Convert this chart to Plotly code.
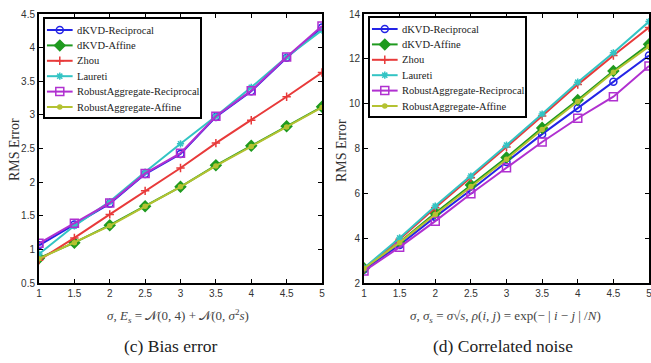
import plotly.graph_objects as go

sigma = [1, 1.5, 2, 2.5, 3, 3.5, 4, 4.5, 5]
series_names = ["dKVD-Reciprocal", "dKVD-Affine", "Zhou", "Laureti",
                "RobustAggregate-Reciprocal", "RobustAggregate-Affine"]

# (c) Bias error
bias_dkvd_recip = [1.06, 1.37, 1.68, 2.12, 2.42, 2.97, 3.35, 3.85, 4.30]
bias_dkvd_affine = [0.87, 1.10, 1.36, 1.64, 1.93, 2.25, 2.54, 2.83, 3.12]
bias_zhou = [0.84, 1.17, 1.52, 1.87, 2.21, 2.58, 2.92, 3.27, 3.63]
bias_laureti = [0.93, 1.35, 1.71, 2.15, 2.57, 2.98, 3.41, 3.86, 4.26]
bias_ra_recip = [1.09, 1.39, 1.69, 2.13, 2.43, 2.98, 3.36, 3.86, 4.32]
bias_ra_affine = [0.86, 1.10, 1.35, 1.64, 1.93, 2.24, 2.53, 2.82, 3.11]

# (d) Correlated noise
corr_dkvd_recip = [2.60, 3.70, 4.95, 6.15, 7.40, 8.64, 9.80, 10.98, 12.15]
corr_dkvd_affine = [2.66, 3.82, 5.12, 6.37, 7.60, 8.92, 10.16, 11.46, 12.65]
corr_zhou = [2.65, 3.95, 5.36, 6.70, 8.07, 9.45, 10.85, 12.15, 13.40]
corr_laureti = [2.67, 4.01, 5.43, 6.77, 8.15, 9.54, 10.96, 12.27, 13.66]
corr_ra_recip = [2.53, 3.60, 4.76, 5.98, 7.14, 8.29, 9.35, 10.31, 11.68]
corr_ra_affine = [2.65, 3.80, 5.06, 6.30, 7.52, 8.85, 10.10, 11.40, 12.55]

x_ticks = [1, 1.5, 2, 2.5, 3, 3.5, 4, 4.5, 5]
y_ticks_c = [0.5, 1, 1.5, 2, 2.5, 3, 3.5, 4, 4.5]
y_ticks_d = [2, 4, 6, 8, 10, 12, 14]

colors = ["#2424e6", "#1f9a1f", "#e83a3a", "#33c4c4", "#b030d0", "#b4c232"]
symbols = ["circle-open", "diamond", "cross-thin-open", "asterisk-open",
           "square-open", "circle"]
msizes = [7, 8, 6, 6, 8, 4]

W, H = 651, 363
serif = "Liberation Serif, Times New Roman"
fig = go.Figure()

bias = [bias_dkvd_recip, bias_dkvd_affine, bias_zhou, bias_laureti, bias_ra_recip, bias_ra_affine]
corr = [corr_dkvd_recip, corr_dkvd_affine, corr_zhou, corr_laureti, corr_ra_recip, corr_ra_affine]


def marker(i, opacity=1):
    return dict(symbol=symbols[i], size=msizes[i], color=colors[i], opacity=opacity,
                line=dict(color=colors[i], width=1.5))


for data, xa, ya in [(bias, "x", "y"), (corr, "x2", "y2")]:
    for i, name in enumerate(series_names):
        fig.add_trace(go.Scatter(
            x=sigma, y=data[i], name=name, mode="lines+markers",
            line=dict(color=colors[i], width=2), marker=marker(i),
            xaxis=xa, yaxis=ya, showlegend=False, hoverinfo="x+y+name"))

# custom legends (compact rows like the original), each on its own hidden axis pair
leg_w, leg_h = 159, 100
row_y = [12 + 15.4 * k for k in range(len(series_names))]
annotations = []
shapes = []
for xa, ya in [("x3", "y3"), ("x4", "y4")]:
    shapes.append(dict(type="rect", xref=xa, yref=ya, x0=0, x1=leg_w, y0=0, y1=leg_h,
                       fillcolor="white", line=dict(color="black", width=2), layer="below"))
    for i, name in enumerate(series_names):
        fig.add_trace(go.Scatter(
            x=[3, 16, 29], y=[row_y[i]] * 3, mode="lines+markers",
            line=dict(color=colors[i], width=2),
            marker=dict(symbol=symbols[i], size=msizes[i], color=colors[i],
                        opacity=[0, 1, 0], line=dict(color=colors[i], width=1.5)),
            xaxis=xa, yaxis=ya, showlegend=False, hoverinfo="skip"))
        annotations.append(dict(text=name, x=31, y=row_y[i], xref=xa, yref=ya,
                                xanchor="left", yanchor="middle", showarrow=False,
                                font=dict(family=serif, size=10.5, color="#222")))

ytop = 1 - 14 / H
ybot = 1 - 283 / H
axis_common = dict(showline=True, linecolor="black", linewidth=2, mirror="ticks",
                   ticks="inside", ticklen=4, tickwidth=1, tickcolor="black",
                   showgrid=False, zeroline=False, fixedrange=True, automargin=False,
                   ticklabeloverflow="allow",
                   tickfont=dict(family="Liberation Sans, Arial", size=10, color="#333"))
hidden = dict(visible=False, showgrid=False, zeroline=False, fixedrange=True, automargin=False)

tick_text_x = [f"{v:g}" for v in x_ticks]
fig.update_layout(
    width=W, height=H,
    margin=dict(l=0, r=0, t=0, b=0),
    paper_bgcolor="white", plot_bgcolor="white",
    showlegend=False,
    xaxis=dict(domain=[39 / W, 322 / W], range=[1, 5], tickvals=x_ticks,
               ticktext=tick_text_x, anchor="y", **axis_common),
    yaxis=dict(domain=[ybot, ytop], range=[0.5, 4.5], tickvals=y_ticks_c,
               ticktext=[f"{v:g}" for v in y_ticks_c], anchor="x", **axis_common),
    xaxis2=dict(domain=[364 / W, 649 / W], range=[1, 5], tickvals=x_ticks,
                ticktext=tick_text_x, anchor="y2", **axis_common),
    yaxis2=dict(domain=[ybot, ytop], range=[2, 14], tickvals=y_ticks_d,
                ticktext=[f"{v:g}" for v in y_ticks_d], anchor="x2", **axis_common),
    xaxis3=dict(domain=[43 / W, (43 + leg_w) / W], range=[-1, leg_w + 1], anchor="y3", **hidden),
    yaxis3=dict(domain=[1 - 119 / H, 1 - 17 / H], range=[leg_h + 1, -1], anchor="x3", **hidden),
    xaxis4=dict(domain=[368 / W, (368 + leg_w) / W], range=[-1, leg_w + 1], anchor="y4", **hidden),
    yaxis4=dict(domain=[1 - 118 / H, 1 - 16 / H], range=[leg_h + 1, -1], anchor="x4", **hidden),
)

axis_labels = [
    dict(text="RMS Error", x=15 / W, y=1 - 150 / H, textangle=-90,
         font=dict(family=serif, size=14, color="#333")),
    dict(text="RMS Error", x=342 / W, y=1 - 150 / H, textangle=-90,
         font=dict(family=serif, size=14, color="#333")),
    dict(text="<i>σ</i>, <i>E<sub>s</sub></i> = 𝒩(0, 4) + 𝒩(0, <i>σ</i><sup>2</sup><i>s</i>)",
         x=178 / W, y=1 - 316 / H, font=dict(family=serif, size=13, color="#444")),
    dict(text="<i>σ</i>, <i>σ<sub>s</sub></i> = <i>σ</i>√<i>s</i>, <i>ρ</i>(<i>i</i>, <i>j</i>) = exp(− | <i>i</i> − <i>j</i> | /<i>N</i>)",
         x=505 / W, y=1 - 316 / H, font=dict(family=serif, size=13, color="#444")),
    dict(text="(c) Bias error", x=170 / W, y=1 - 346 / H,
         font=dict(family=serif, size=17.5, color="#222")),
    dict(text="(d) Correlated noise", x=503 / W, y=1 - 346 / H,
         font=dict(family=serif, size=17.5, color="#222")),
]
for a in axis_labels:
    a.update(xref="paper", yref="paper", showarrow=False, xanchor="center", yanchor="middle")

fig.update_layout(annotations=axis_labels + annotations, shapes=shapes)

fig.write_html("out.html", config={"displayModeBar": False},
               post_script="document.body.style.margin='0';document.body.style.overflow='hidden';")
